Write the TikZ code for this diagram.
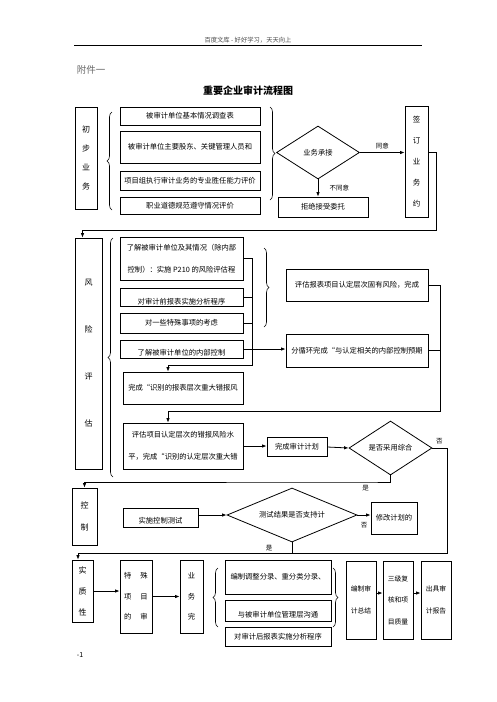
\documentclass[tikz,border=0pt]{standalone}
\usepackage{fontspec}
\setmainfont{Noto Sans CJK SC}
\usetikzlibrary{arrows.meta,shapes.geometric,decorations.pathreplacing,positioning}
\newcommand{\lowtext}[2]{\raisebox{-#1pt}[0pt][0pt]{#2}}

\begin{document}
\begin{tikzpicture}[x=1pt,y=-1pt,
    box/.style={draw,line width=0.8pt,inner sep=0pt,align=center,font=\fontsize{7.3}{9}\selectfont},
    dia/.style={draw,diamond,line width=0.8pt,inner sep=0pt,font=\fontsize{7.3}{9}\selectfont},
    arr/.style={line width=0.8pt,-{Latex[length=4.5pt,width=3.5pt]}},
    ln/.style={line width=0.8pt},
    brc/.style={decorate,decoration={brace,amplitude=5pt},line width=0.6pt},
    lbl/.style={font=\fontsize{6.5}{7}\selectfont}]
\useasboundingbox (0,0) rectangle (496,702);

% page head and title
\node[font=\fontsize{6.3}{7}\selectfont,text=black!70] (hd) at (248,40) {百度文库 - 好好学习，天天向上};
\draw[line width=0.7pt] (74,45) -- (422,45);
\node[font=\fontsize{9.5}{10}\selectfont,text=black!60] (fj) at (91,70) {附件一};
\node[font=\fontsize{10}{11}\selectfont\bfseries] (tt) at (248,91) {重要企业审计流程图};

% initial business
\node[box,minimum width=22,minimum height=102,font=\fontsize{8}{19}\selectfont] (p0) at (86,158) {初\\步\\业\\务};
\node[box,minimum width=140,minimum height=18] (p1) at (190,116) {被审计单位基本情况调查表};
\node[box,minimum width=140,minimum height=32] (p2) at (190,147) {被审计单位主要股东、关键管理人员和};
\node[box,minimum width=140,minimum height=19] (p3) at (190,180.5) {项目组执行审计业务的专业胜任能力评价};
\node[box,minimum width=140,minimum height=17] (p4) at (190,205.5) {职业道德规范遵守情况评价};
\draw[brc] (112,210) -- (112,112);
\draw[brc] (270,107) -- (270,200);
\node[dia,minimum width=83,minimum height=53,aspect=1.6] (d1) at (318,152.5) {业务承接};
\node[box,minimum width=90,minimum height=20] (p5) at (323,207) {拒绝接受委托};
\node[box,minimum width=23,minimum height=111,font=\fontsize{7.5}{21}\selectfont] (p6) at (416.5,161.5) {签\\订\\业\\务\\约};
\draw[arr] (d1.east) -- (d1.east -| p6.west) node[midway,above,lbl] {同意};
\draw[arr] (d1.south) -- (d1.south |- p5.north) node[midway,right=8pt,lbl] {不同意};
\coordinate (c0) at (436,230);

% risk assessment
\node[box,minimum width=27,minimum height=231,font=\fontsize{8}{47}\selectfont] (r0) at (88.5,353.5) {风\\险\\评\\估};
\draw[arr] (p6.east |- d1.east) -| (c0) -| ([xshift=-6]r0.north);
\draw[brc] (113,477) -- (113,238);
\node[box,minimum width=123,minimum height=43,font=\fontsize{7.3}{22}\selectfont] (ra) at (181.5,258.5) {了解被审计单位及其情况（除内部\\控制）：实施 P210 的风险评估程};
\node[box,minimum width=123,minimum height=18] (rb) at (181.5,297) {\lowtext{7}{对审计前报表实施分析程序}};
\node[box,minimum width=123,minimum height=20] (rc) at (181.5,323) {对一些特殊事项的考虑};
\node[box,minimum width=123,minimum height=18] (rd) at (181.5,349) {\lowtext{6}{了解被审计单位的内部控制}};
\node[box,minimum width=120,minimum height=32] (re) at (183,388) {完成“识别的报表层次重大错报风};
\node[box,minimum width=120,minimum height=46,font=\fontsize{7.3}{22}\selectfont] (rf) at (183,446) {评估项目认定层次的错报风险水\\平，完成“识别的认定层次重大错};
\draw[brc] (264,248) -- (264,327);
\node[box,minimum width=142,minimum height=32] (rg) at (357,285) {评估报表项目认定层次固有风险，完成};
\node[box,minimum width=142,minimum height=33] (rh) at (357,350.5) {分循环完成“与认定相关的内部控制预期};
\coordinate (c1) at (252,365);
\draw[arr] (ra.east) -| (c1) -| ([xshift=-15]re.north);
\draw[ln] (rb.east) -- (rb.east -| c1);
\draw[ln] (rc.east) -- (rc.east -| c1);
\draw[arr] (rd.east) -- (rd.east -| rh.west);
\coordinate (c2) at (440,411);
\draw[arr] (rg.east) -| (c2) -| ([xshift=-15]rf.north);
\draw[ln] (rh.east) -- (rh.east -| c2);
\node[box,minimum width=60,minimum height=19] (rp) at (297,447) {完成审计计划};
\node[dia,minimum width=83,minimum height=54,aspect=1.55] (d2) at (390.5,448) {是否采用综合};
\draw[arr] (rf.east) -- (rf.east -| rp.west);
\draw[arr] (rp.east) -- (d2.west);

% control
\node[box,minimum width=25,minimum height=57,font=\fontsize{8}{22}\selectfont] (k0) at (84.5,516.5) {控\\制};
\coordinate (c4) at (390.5,482);
\draw[arr] (d2.south) -- (c4) -- ++(-25,0) node[below,lbl] {是} -| (k0.north);
\node[box,minimum width=75,minimum height=19] (ct) at (160.5,517.5) {\lowtext{6}{实施控制测试}};
\node[dia,minimum width=130,minimum height=54,aspect=2.4] (d3) at (292,515) {测试结果是否支持计};
\node[box,minimum width=46,minimum height=32] (mp) at (394,518) {修改计划的};
\draw[arr] (ct.east |- d3.west) -- (d3.west);
\draw[arr] (d3.east) -- (d3.east -| mp.west) node[midway,below=4pt,lbl] {否};

% substantive procedures
\node[box,minimum width=21,minimum height=62,font=\fontsize{8}{21}\selectfont] (s0) at (82.5,591) {实\\质\\性};
\coordinate (c3) at (447,553);
\draw[arr] (d2.east) node[above right,lbl] {否} -| (c3) -| ([xshift=-4.5]s0.north);
\draw[ln] (d3.south) -- (d3.south |- c3) node[midway,left=16pt,lbl] {是};
\node[box,minimum width=32,minimum height=73,font=\fontsize{7.3}{20.5}\selectfont] (s1) at (136,596.5) {特\hspace{9pt}殊\\项\hspace{9pt}目\\的\hspace{9pt}审};
\node[box,minimum width=23,minimum height=73,font=\fontsize{7.3}{20.5}\selectfont] (s2) at (191.5,596.5) {业\\务\\完};
\draw[arr] (s0.east) -- (s0.east -| s1.west);
\draw[arr] (s1.east) -- (s2.west);
\draw[brc] (218,627) -- (218,568);
\node[box,minimum width=106,minimum height=34] (s3) at (278,577) {编制调整分录、重分类分录、};
\node[box,minimum width=106,minimum height=21] (s4) at (278,610.5) {\lowtext{6.5}{与被审计单位管理层沟通}};
\node[box,minimum width=106,minimum height=19] (s5) at (278,636.5) {对审计后报表实施分析程序};
\draw[brc] (333,568) -- (333,627);
\node[box,minimum width=30,minimum height=78,font=\fontsize{6.8}{22}\selectfont] (s6) at (361,600) {编制审\\计总结};
\node[box,minimum width=30,minimum height=78,font=\fontsize{6.8}{21.5}\selectfont] (s7) at (398,600) {三级复\\核和项\\目质量};
\node[box,minimum width=30,minimum height=78,font=\fontsize{6.8}{22}\selectfont] (s8) at (436,600) {出具审\\计报告};
\draw[arr] ([yshift=7]s6.east) -- ([yshift=7]s7.west);
\draw[arr] ([yshift=7]s7.east) -- ([yshift=7]s8.west);

\node[font=\fontsize{7}{8}\selectfont] (pg) at (80,655) {-1};
\end{tikzpicture}
\end{document}
